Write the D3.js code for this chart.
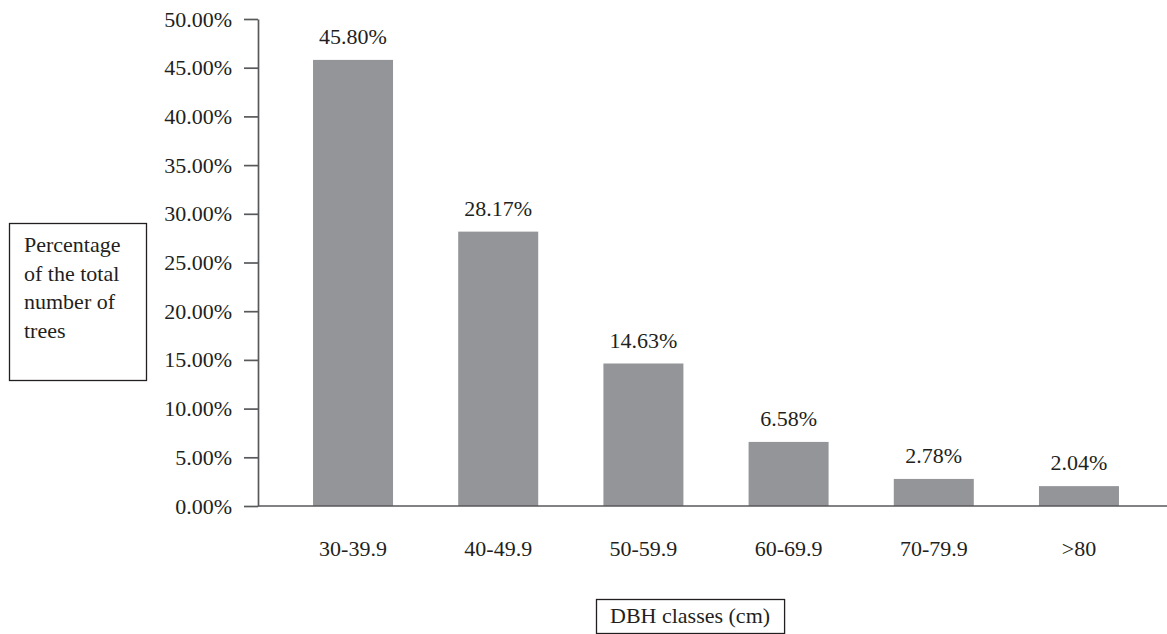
<!DOCTYPE html>
<html>
<head>
<meta charset="utf-8">
<script src="https://cdn.jsdelivr.net/npm/d3@7/dist/d3.min.js"></script>
<style>
  html, body { margin: 0; padding: 0; background: #ffffff; }
  svg { display: block; }
  svg text { font-family: "Liberation Serif", "Times New Roman", serif !important; fill: #231f20; }
</style>
</head>
<body>
<svg id="chart" width="1167" height="634"></svg>
<script>
// DBH class distribution (share of all trees)
const categories = ["30-39.9", "40-49.9", "50-59.9", "60-69.9", "70-79.9", ">80"];
const shares = [45.80, 28.17, 14.63, 6.58, 2.78, 2.04];
const yTicks = [0, 5, 10, 15, 20, 25, 30, 35, 40, 45, 50];
const yTitleLines = ["Percentage", "of the total", "number of", "trees"];
const xTitle = "DBH classes (cm)";

const svg = d3.select("#chart");
const W = 1167, H = 634;
const axisX = 258, baseY = 506, topY = 19;
const fontSize = 22;
const serif = "Liberation Serif";
const ink = "#231f20", axisInk = "#58595b", barFill = "#939598";

const y = d3.scaleLinear().domain([0, 50]).range([baseY, topY]);
const x = d3.scaleBand()
  .domain(categories)
  .range([axisX, 1174])
  .paddingInner(0.449)
  .paddingOuter(0.379);

const rows = categories.map((c, i) => ({ c, v: shares[i] }));

// bars
svg.append("g").selectAll("rect")
  .data(rows)
  .join("rect")
  .attr("x", d => x(d.c))
  .attr("y", d => y(d.v))
  .attr("width", x.bandwidth())
  .attr("height", d => y(0) - y(d.v))
  .attr("fill", barFill);

// value labels
svg.append("g").selectAll("text")
  .data(rows)
  .join("text")
  .attr("x", d => x(d.c) + x.bandwidth() / 2)
  .attr("y", d => y(d.v) - 16)
  .attr("text-anchor", "middle")
  .style("font-family", serif)
  .attr("font-size", fontSize)
  .text(d => d.v.toFixed(2) + "%");

// y axis
const yAxis = svg.append("g")
  .attr("transform", `translate(${axisX},0)`)
  .call(d3.axisLeft(y).tickValues(yTicks).tickSize(14).tickSizeOuter(0).tickPadding(12)
    .tickFormat(d => d.toFixed(2) + "%"));
yAxis.attr("font-family", serif).attr("font-size", fontSize);
yAxis.select(".domain").attr("stroke", axisInk).attr("stroke-width", 1.7);
yAxis.selectAll(".tick line").attr("stroke", axisInk).attr("stroke-width", 1.7);
yAxis.selectAll(".tick text").style("font-family", serif).attr("fill", ink);

// baseline across the plot
svg.append("line")
  .attr("x1", axisX).attr("x2", W)
  .attr("y1", baseY).attr("y2", baseY)
  .attr("stroke", axisInk).attr("stroke-width", 1.7);

// category labels
const xAxis = svg.append("g")
  .attr("transform", `translate(0,${baseY})`)
  .call(d3.axisBottom(x).tickSize(0).tickPadding(34));
xAxis.attr("font-family", serif).attr("font-size", fontSize);
xAxis.select(".domain").remove();
xAxis.selectAll(".tick text").style("font-family", serif).attr("fill", ink);

// y title in a box
svg.append("rect")
  .attr("x", 9.5).attr("y", 223.5).attr("width", 137).attr("height", 157)
  .attr("fill", "none").attr("stroke", ink).attr("stroke-width", 1.3);
const yt = svg.append("text").attr("font-size", fontSize).style("font-family", serif);
yTitleLines.forEach((line, i) => {
  yt.append("tspan").attr("x", 24).attr("y", 252 + i * 28.5).text(line);
});

// x title in a box
const xt = svg.append("text")
  .attr("x", 610).attr("y", 623)
  .attr("font-size", fontSize)
  .style("font-family", serif)
  .text(xTitle);
const tw = xt.node().getComputedTextLength();
svg.append("rect")
  .attr("x", 596.5).attr("y", 599.5).attr("width", tw + 28).attr("height", 34)
  .attr("fill", "none").attr("stroke", ink).attr("stroke-width", 1.3);
</script>
</body>
</html>
